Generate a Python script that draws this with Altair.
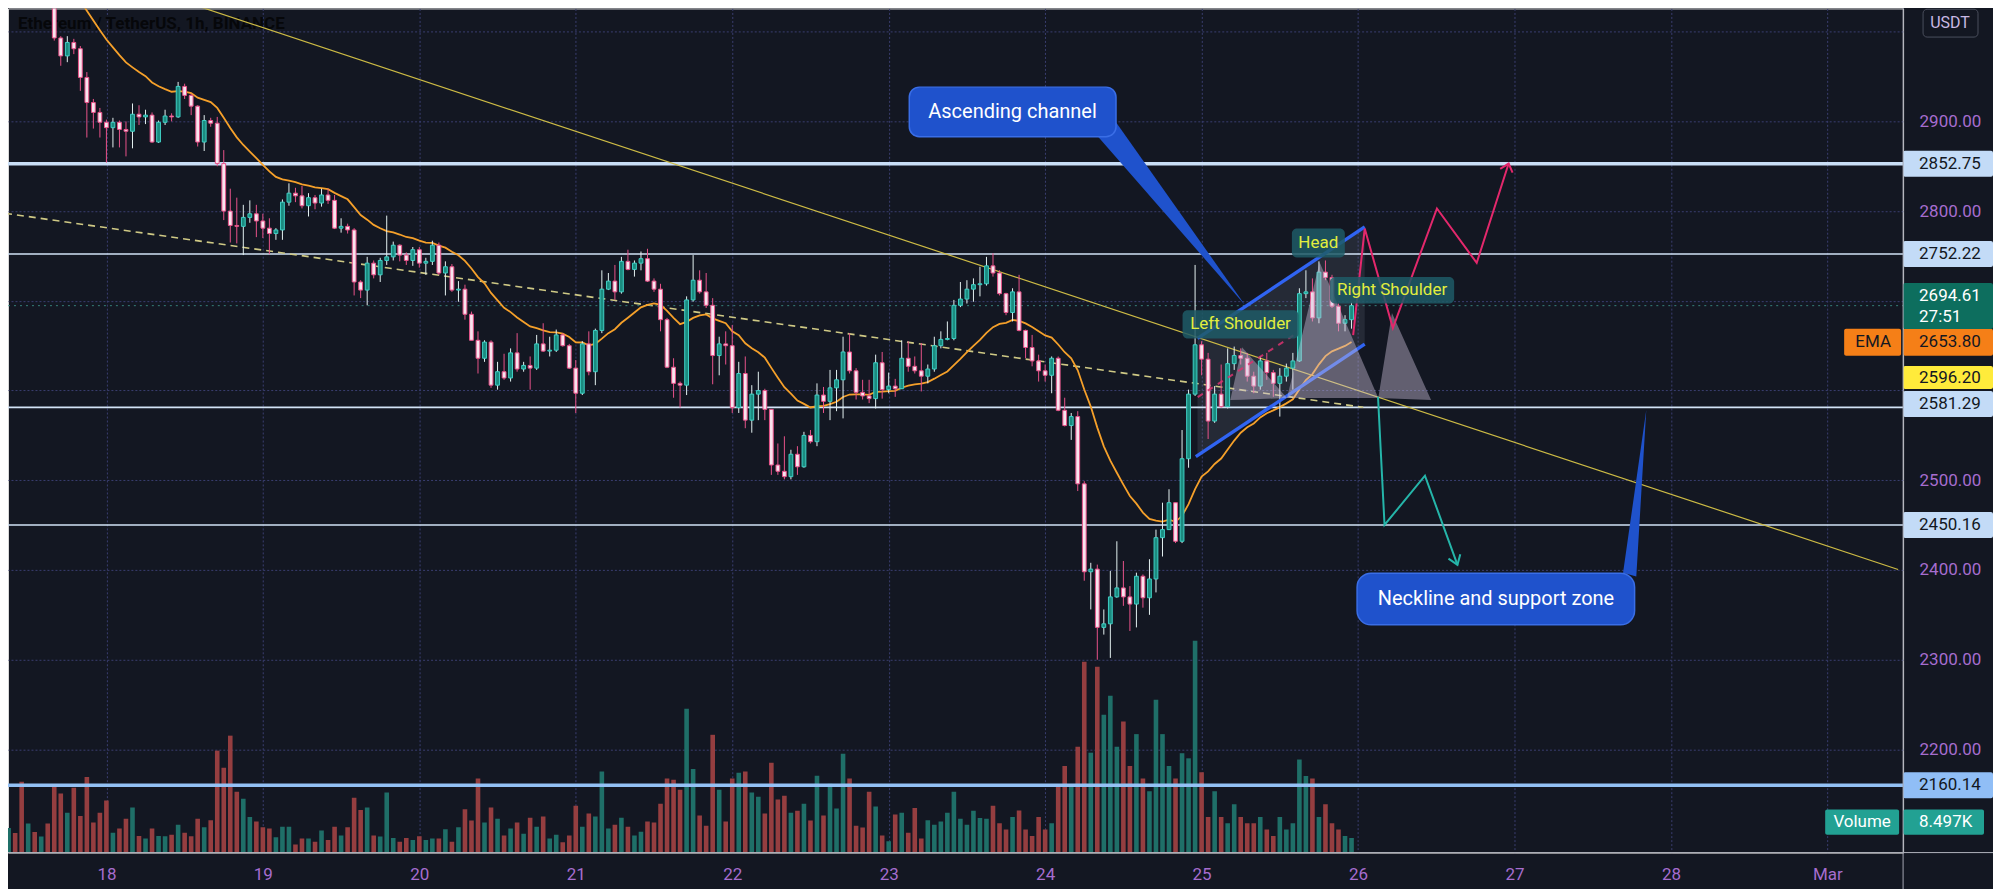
import altair as alt
import pandas as pd

# ---------------- data (hourly candles, t = hours since 18 Feb 00:00) ----------------
FIRST_HOUR = -15
FIRST_OPEN = 3065
closes = [
    3072, 3058, 3049, 3060, 3052, 3055, 3046, 2993, 2973, 2988,
    2981, 2949, 2921, 2910, 2899, 2893, 2899, 2891, 2889, 2908,
    2905, 2907, 2877, 2899, 2906, 2905, 2939, 2929, 2917, 2877,
    2901, 2898, 2853, 2800, 2784, 2783, 2793, 2797, 2789, 2781,
    2775, 2779, 2810, 2820, 2817, 2806, 2815, 2809, 2818, 2812,
    2781, 2783, 2779, 2721, 2712, 2742, 2729, 2745, 2749, 2762,
    2751, 2745, 2757, 2742, 2744, 2762, 2731, 2738, 2712, 2713,
    2685, 2656, 2636, 2654, 2606, 2621, 2614, 2642, 2624, 2628,
    2625, 2652, 2644, 2645, 2662, 2650, 2625, 2597, 2652, 2621,
    2667, 2713, 2722, 2710, 2744, 2735, 2742, 2747, 2722, 2713,
    2679, 2626, 2608, 2606, 2701, 2723, 2710, 2695, 2639, 2652,
    2650, 2581, 2619, 2567, 2596, 2600, 2579, 2517, 2510, 2504,
    2529, 2515, 2550, 2543, 2595, 2588, 2603, 2612, 2643, 2622,
    2598, 2594, 2591, 2631, 2601, 2605, 2602, 2636, 2627, 2622,
    2616, 2624, 2650, 2657, 2658, 2695, 2702, 2713, 2718, 2719,
    2739, 2731, 2708, 2687, 2710, 2667, 2648, 2633, 2622, 2617,
    2636, 2578, 2561, 2571, 2496, 2398, 2401, 2336, 2340, 2370,
    2380, 2370, 2362, 2393, 2369, 2390, 2436, 2445, 2475, 2432,
    2524, 2596, 2651, 2635, 2566, 2596, 2582, 2630, 2639, 2636,
    2616, 2605, 2633, 2620, 2608, 2616, 2625, 2633, 2708, 2710,
    2681, 2732, 2726, 2694, 2675, 2679, 2694.61,
]
highs = [
    3085, 3078, 3062, 3066, 3064, 3062, 3058, 3055, 2995, 2995,
    2992, 2984, 2955, 2925, 2915, 2902, 2904, 2901, 2900, 2920,
    2918, 2913, 2910, 2901, 2913, 2909, 2944, 2942, 2931, 2918,
    2907, 2904, 2905, 2868, 2825, 2815, 2807, 2812, 2807, 2797,
    2792, 2781, 2813, 2831, 2826, 2828, 2820, 2818, 2825, 2825,
    2818, 2792, 2786, 2781, 2723, 2749, 2745, 2748, 2795, 2766,
    2763, 2754, 2760, 2760, 2748, 2767, 2765, 2744, 2741, 2722,
    2718, 2688, 2666, 2656, 2656, 2632, 2641, 2647, 2664, 2632,
    2638, 2662, 2675, 2660, 2668, 2664, 2652, 2634, 2655, 2666,
    2669, 2734, 2731, 2740, 2749, 2757, 2745, 2755, 2758, 2725,
    2719, 2681, 2636, 2610, 2705, 2751, 2734, 2731, 2703, 2660,
    2666, 2673, 2632, 2638, 2606, 2621, 2602, 2579, 2541, 2549,
    2534, 2538, 2554, 2556, 2608, 2604, 2623, 2623, 2660, 2664,
    2625, 2612, 2612, 2640, 2643, 2620, 2613, 2656, 2655, 2638,
    2653, 2629, 2660, 2666, 2677, 2701, 2721, 2723, 2725, 2738,
    2749, 2753, 2734, 2709, 2714, 2729, 2668, 2662, 2640, 2629,
    2638, 2638, 2592, 2575, 2577, 2499, 2408, 2406, 2356, 2399,
    2432, 2410, 2382, 2397, 2395, 2412, 2445, 2475, 2490, 2475,
    2556, 2601, 2740, 2655, 2642, 2605, 2629, 2647, 2649, 2647,
    2642, 2621, 2638, 2642, 2623, 2625, 2630, 2642, 2714, 2734,
    2725, 2744, 2745, 2729, 2697, 2684, 2698,
]
lows = [
    3058, 3050, 3028, 3040, 3044, 3041, 3036, 2990, 2962, 2966,
    2975, 2934, 2882, 2892, 2882, 2854, 2871, 2871, 2861, 2870,
    2896, 2897, 2876, 2876, 2896, 2900, 2904, 2925, 2907, 2872,
    2867, 2894, 2850, 2790, 2765, 2764, 2751, 2787, 2771, 2770,
    2752, 2768, 2768, 2806, 2810, 2803, 2794, 2802, 2805, 2808,
    2780, 2776, 2775, 2706, 2703, 2695, 2725, 2721, 2740, 2745,
    2744, 2740, 2739, 2737, 2729, 2740, 2729, 2706, 2710, 2699,
    2679, 2656, 2619, 2632, 2603, 2601, 2612, 2610, 2621, 2621,
    2601, 2623, 2643, 2638, 2643, 2649, 2624, 2575, 2595, 2617,
    2606, 2664, 2712, 2701, 2708, 2734, 2727, 2734, 2721, 2710,
    2666, 2625, 2592, 2581, 2595, 2699, 2708, 2692, 2607, 2617,
    2629, 2575, 2575, 2558, 2553, 2567, 2567, 2506, 2506, 2501,
    2501, 2506, 2514, 2541, 2538, 2575, 2567, 2577, 2569, 2619,
    2590, 2590, 2586, 2580, 2591, 2597, 2593, 2602, 2621, 2619,
    2599, 2608, 2621, 2647, 2656, 2656, 2693, 2697, 2699, 2705,
    2717, 2727, 2706, 2684, 2677, 2666, 2636, 2627, 2610, 2610,
    2597, 2577, 2560, 2545, 2488, 2388, 2356, 2300, 2328, 2302,
    2369, 2360, 2332, 2336, 2358, 2350, 2375, 2415, 2451, 2430,
    2430, 2514, 2594, 2617, 2546, 2564, 2581, 2580, 2623, 2629,
    2610, 2597, 2601, 2612, 2593, 2571, 2610, 2601, 2632, 2703,
    2677, 2675, 2723, 2692, 2666, 2666, 2669,
]
volumes_k = [
    14.5, 11.5, 41.6, 17.0, 12.1, 9.4, 17.0, 38.5, 34.6, 23.3,
    38.1, 21.5, 44.4, 17.6, 23.4, 30.6, 11.7, 14.1, 19.9, 26.4,
    9.8, 8.2, 14.1, 9.8, 9.6, 10.5, 16.4, 11.7, 9.6, 19.9,
    14.8, 18.9, 59.8, 49.8, 68.6, 35.7, 31.6, 20.9, 18.3, 14.8,
    14.1, 9.0, 15.2, 15.2, 4.7, 8.2, 8.2, 6.4, 12.9, 7.4,
    15.2, 10.0, 14.8, 32.2, 25.0, 26.4, 10.0, 9.4, 35.2, 8.6,
    6.4, 8.6, 7.4, 9.6, 7.4, 8.2, 8.2, 13.7, 6.3, 14.8,
    25.4, 18.8, 43.4, 17.6, 26.4, 19.9, 10.0, 14.1, 17.6, 11.1,
    20.5, 15.2, 21.1, 8.2, 10.5, 6.0, 10.0, 27.5, 15.2, 22.9,
    21.1, 47.6, 14.1, 16.4, 20.5, 15.2, 10.0, 12.3, 18.2, 17.6,
    28.7, 43.4, 42.8, 36.9, 84.4, 49.0, 21.7, 15.8, 69.1, 36.9,
    18.2, 43.4, 46.9, 47.6, 35.2, 32.8, 22.9, 52.7, 31.1, 33.4,
    23.4, 24.6, 28.7, 18.8, 45.1, 21.7, 40.4, 25.8, 58.0, 43.4,
    15.8, 14.7, 35.7, 27.0, 10.0, 6.6, 22.3, 23.4, 11.7, 26.2,
    8.2, 18.9, 16.4, 18.2, 23.4, 35.7, 19.9, 16.4, 24.6, 20.3,
    19.9, 27.5, 17.2, 13.5, 20.9, 24.7, 13.5, 9.7, 20.9, 13.5,
    17.2, 39.6, 50.8, 39.6, 62.1, 111.9, 58.6, 109.0, 80.8, 92.0,
    62.1, 76.9, 50.8, 69.5, 43.4, 36.0, 89.7, 69.5, 50.8, 43.4,
    58.3, 55.3, 124.2, 47.1, 20.9, 36.0, 20.9, 17.2, 28.4, 20.9,
    17.2, 17.2, 20.9, 13.5, 9.7, 20.9, 13.5, 17.2, 54.6, 44.9,
    43.4, 20.9, 28.4, 17.2, 13.5, 9.7, 8.497,
]
EMA_LENGTH = 20
EMA_SEED = 3090

day_ticks = [0, 24, 48, 72, 96, 120, 144, 168, 192, 216, 240, 264]
day_labels = ["18", "19", "20", "21", "22", "23", "24", "25", "26", "27", "28", "Mar"]
price_ticks = [2200, 2300, 2400, 2500, 2600, 2700, 2800, 2900, 3000]
price_ticks_hidden = [2600, 2700, 3000]   # covered by price tags / the USDT badge

hline_prices = [2852.75, 2752.22, 2581.29, 2450.16, 2160.14]
hline_widths = [3.5, 1.6, 1.6, 1.6, 3.5]
hline_colors = ["#c9def6", "#d2e3f6", "#d2e3f6", "#d2e3f6", "#93c1f5"]

trend_t = [11.38, 274.84]
trend_p = [3034.9, 2400.5]
dashed_t = [-15.55, 192.8]
dashed_p = [2797.6, 2581.3]

chan_upper_t = [167.37, 193.02]
chan_upper_p = [2658.1, 2782.4]
chan_lower_t = [167.11, 193.02]
chan_lower_p = [2526.3, 2651.8]
chan_fill_t = [167.37, 193.02]
chan_fill_top = [2658.1, 2782.4]
chan_fill_bot = [2527.6, 2651.8]

hs_t = [172.4, 174.2, 181.1, 186.1, 195.1, 197.2, 203.2]
hs_p = [2589.4, 2648.4, 2591.6, 2743.1, 2591.6, 2686.3, 2589.4]

pinkdash_t = [167.4, 182.6]
pinkdash_p = [2592.6, 2664.0]
pink_t = [191.25, 193.02, 197.34, 204.1, 210.2, 215.1]
pink_p = [2661.8, 2780.6, 2669.6, 2802.9, 2742.3, 2853.0]
pink_head_t = [213.8, 215.1, 215.7]
pink_head_p = [2847.0, 2853.0, 2843.0]
teal_t = [195.06, 196.06, 202.26, 207.25]
teal_p = [2593.1, 2450.2, 2505.1, 2405.7]
teal_head_t = [205.87, 207.25, 207.68]
teal_head_p = [2412.7, 2405.7, 2417.5]

callout_text = ["Ascending channel", "Neckline and support zone"]
callout_t0 = [123.16, 191.85]
callout_t1 = [154.87, 234.42]
callout_p0 = [2938.2, 2396.4]
callout_p1 = [2882.9, 2338.9]
callout_tc = [139.0, 213.15]
callout_pc = [2910.6, 2367.8]
callout_wedge_t = [[152.12, 154.87, 174.68], [232.65, 234.68, 236.21]]
callout_wedge_p = [[2882.9, 2899.0, 2695.2], [2396.8, 2392.6, 2578.3]]

pattern_text = ["Head", "Left Shoulder", "Right Shoulder"]
pattern_t0 = [181.85, 165.08, 187.69]
pattern_t1 = [189.97, 182.86, 206.74]
pattern_p0 = [2780.6, 2689.6, 2726.7]
pattern_p1 = [2748.3, 2658.1, 2697.1]
pattern_tc = [185.9, 173.97, 197.22]
pattern_pc = [2764.3, 2673.9, 2711.9]

title_text = "Ethereum / TetherUS, 1h, BINANCE"

# right-scale price tags: text, top, bottom, fill
tag_text = ["2852.75", "2752.22", "2653.80", "2596.20", "2581.29", "2450.16", "2160.14"]
tag_top = [2867.2, 2766.7, 2668.8, 2627.3, 2599.5, 2464.6, 2174.6]
tag_bot = [2838.3, 2737.7, 2638.8, 2601.7, 2570.5, 2435.7, 2145.6]
tag_mid = [2852.75, 2752.22, 2653.8, 2614.5, 2585.0, 2450.16, 2160.14]
tag_fill = ["#c3dbf7", "#c3dbf7", "#f57f17", "#ffeb3b", "#c3dbf7", "#c3dbf7", "#90bef6"]

# ---------------- layout ----------------
W, H = 1897, 845
Y_MIN, Y_MAX = 2085.0, 3025.9
VOL_TOP = 495.2            # volume (K) at the top of the pane
xscale = alt.Scale(domain=[-14.33, 274.84], nice=False, zero=False)
yscale = alt.Scale(domain=[Y_MIN, Y_MAX], nice=False, zero=False)
BG = "#131722"
AXIS_TXT = "#a66dcf"
GRID = "#3a3e70"
FONT = "Roboto"

x_axis = alt.Axis(
    values=day_ticks, grid=True, gridColor=GRID, gridDash=[2, 2], gridWidth=1,
    ticks=False, domain=False, labelColor=AXIS_TXT, labelFontSize=17, labelFont=FONT,
    labelPadding=14, labelFlush=False, labelOverlap=False, title=None,
    labelExpr="[" + ",".join("'" + s + "'" for s in day_labels) + "][round(datum.value/24)]",
)
hidden = "||".join("datum.value==%d" % v for v in price_ticks_hidden)
y_axis = alt.Axis(
    orient="right", values=price_ticks, grid=True, gridColor=GRID, gridDash=[2, 2], gridWidth=1,
    ticks=False, domain=False, labelColor=AXIS_TXT, labelFontSize=17, labelFont=FONT,
    labelPadding=16, labelAlign="left", labelBaseline="middle", labelOverlap=False,
    labelExpr="(" + hidden + ") ? '' : format(datum.value, '.2f')", title=None,
)


def X(f):
    return alt.X(f, type="quantitative", scale=xscale, axis=x_axis)


def Y(f):
    return alt.Y(f, type="quantitative", scale=yscale, axis=y_axis)


# candles
rows = []
prev = FIRST_OPEN
ema = EMA_SEED
alpha = 2.0 / (EMA_LENGTH + 1)
vol_to_price = (Y_MAX - Y_MIN) / VOL_TOP
for i, (c, h, l, v) in enumerate(zip(closes, highs, lows, volumes_k)):
    o = prev
    up = c >= o
    ema = ema + alpha * (c - ema)
    rows.append(dict(
        t=FIRST_HOUR + i, o=o, c=c, h=max(h, o, c), l=min(l, o, c), vol=v, ema=ema,
        vy=Y_MIN + v * vol_to_price, vb=Y_MIN,
        bt=max(o, c), bb=min(o, c),
        bf="#1b8b7f" if up else "#f8e4ee",
        bs="#3fd0c6" if up else "#e8528a",
        wick="#e4f1f1" if up else "#e8528a",
        vc="#1f6f68" if up else "#953e40",
    ))
    prev = c
cdf = pd.DataFrame(rows)

one = pd.DataFrame({"a": [0]})

title_l = alt.Chart(pd.DataFrame({"t": [-13.57], "p": [3008.1], "s": [title_text]})).mark_text(
    align="left", baseline="middle", fontSize=17, fontWeight="bold", color="#06070a", font=FONT
).encode(x=X("t"), y=Y("p"), text="s:N")

vol = alt.Chart(cdf).mark_bar(size=4.6, clip=True).encode(
    x=X("t"), y=Y("vy"), y2="vb:Q", color=alt.Color("vc:N", scale=None),
)

chan_fill = alt.Chart(pd.DataFrame({"t": chan_fill_t, "p": chan_fill_top, "p2": chan_fill_bot})).mark_area(
    color="#8a8fa3", opacity=0.16
).encode(x=X("t"), y=Y("p"), y2="p2:Q")

hl_df = pd.DataFrame({"p": hline_prices, "w": hline_widths, "c": hline_colors})
hlines = alt.Chart(hl_df).mark_rule().encode(
    y=Y("p"), x=alt.value(0), x2=alt.value(W),
    color=alt.Color("c:N", scale=None), strokeWidth=alt.StrokeWidth("w:Q", scale=None),
)

trend = alt.Chart(pd.DataFrame({"t": trend_t, "p": trend_p})).mark_line(
    color="#cdbb45", strokeWidth=1.2, clip=True
).encode(x=X("t"), y=Y("p"))
dashed = alt.Chart(pd.DataFrame({"t": dashed_t, "p": dashed_p})).mark_line(
    color="#cfc985", strokeWidth=1.6, strokeDash=[7, 5], clip=True
).encode(x=X("t"), y=Y("p"))

curline = alt.Chart(pd.DataFrame({"p": [closes[-1]]})).mark_rule(
    color="#3f9c92", strokeWidth=1, strokeDash=[2, 4], opacity=0.8
).encode(y=Y("p"), x=alt.value(0), x2=alt.value(W))

ema_l = alt.Chart(cdf).mark_line(color="#f5a02a", strokeWidth=1.8, clip=True).encode(x=X("t"), y=Y("ema"))

wick = alt.Chart(cdf).mark_rule(strokeWidth=1, clip=True).encode(
    x=X("t"), y=Y("l"), y2="h:Q", color=alt.Color("wick:N", scale=None),
)
body = alt.Chart(cdf).mark_bar(size=3.8, strokeWidth=1, clip=True).encode(
    x=X("t"), y=Y("bt"), y2="bb:Q",
    fill=alt.Fill("bf:N", scale=None), stroke=alt.Stroke("bs:N", scale=None),
)

chan_df = pd.DataFrame({
    "t": chan_upper_t + chan_lower_t, "p": chan_upper_p + chan_lower_p,
    "id": ["u", "u", "l", "l"],
})
chan_lines = alt.Chart(chan_df).mark_line(color="#3064f2", strokeWidth=3.4).encode(
    x=X("t"), y=Y("p"), detail="id:N"
)


def tri_rows(key, ts, ps):
    pts = sorted(zip(ts, ps))
    (t0, p0), (t1, p1), (t2, p2) = pts
    mid = p0 + (t1 - t0) / (t2 - t0) * (p2 - p0)
    return [dict(id=key, t=t0, p=p0, p2=p0), dict(id=key, t=t1, p=p1, p2=mid),
            dict(id=key, t=t2, p=p2, p2=p2)]


tri = []
for k in range(3):
    tri += tri_rows("hs%d" % k, hs_t[2 * k:2 * k + 3], hs_p[2 * k:2 * k + 3])
hs_l = alt.Chart(pd.DataFrame(tri)).mark_area(color="#cfc3dd", opacity=0.42).encode(
    x=X("t"), y=Y("p"), y2="p2:Q", detail="id:N"
)

pinkdash = alt.Chart(pd.DataFrame({"t": pinkdash_t, "p": pinkdash_p})).mark_line(
    color="#d8336f", strokeWidth=2, strokeDash=[6, 6], opacity=0.85
).encode(x=X("t"), y=Y("p"))

path_df = pd.DataFrame({
    "t": pink_t + pink_head_t + teal_t + teal_head_t,
    "p": pink_p + pink_head_p + teal_p + teal_head_p,
    "id": ["pk"] * len(pink_t) + ["pkh"] * 3 + ["tl"] * len(teal_t) + ["tlh"] * 3,
    "c": ["#e3286c"] * (len(pink_t) + 3) + ["#25b5a9"] * (len(teal_t) + 3),
    "o": list(range(len(pink_t))) + [0, 1, 2] + list(range(len(teal_t))) + [0, 1, 2],
})
paths = alt.Chart(path_df).mark_line(strokeWidth=2).encode(
    x=X("t"), y=Y("p"), detail="id:N", order="o:Q", color=alt.Color("c:N", scale=None)
)

CALL_FILL = "#1f52cc"
call_df = pd.DataFrame({
    "t0": callout_t0, "t1": callout_t1, "p0": callout_p0, "p1": callout_p1,
    "tc": callout_tc, "pc": callout_pc, "s": callout_text,
})
wedges = []
for k in range(2):
    wedges += tri_rows("w%d" % k, callout_wedge_t[k], callout_wedge_p[k])
wedge_l = alt.Chart(pd.DataFrame(wedges)).mark_area(color=CALL_FILL).encode(
    x=X("t"), y=Y("p"), y2="p2:Q", detail="id:N"
)
call_box1 = alt.Chart(call_df.iloc[[0]]).mark_rect(
    cornerRadius=10, fill=CALL_FILL, stroke="#3a6ee6", strokeWidth=1.5
).encode(x=X("t0"), x2="t1:Q", y=Y("p0"), y2="p1:Q")
call_box2 = alt.Chart(call_df.iloc[[1]]).mark_rect(
    cornerRadius=14, fill=CALL_FILL, stroke="#3a6ee6", strokeWidth=1.5
).encode(x=X("t0"), x2="t1:Q", y=Y("p0"), y2="p1:Q")
call_txt = alt.Chart(call_df).mark_text(
    align="center", baseline="middle", fontSize=20, color="#ffffff", font=FONT
).encode(x=X("tc"), y=Y("pc"), text="s:N")

pat_df = pd.DataFrame({
    "t0": pattern_t0, "t1": pattern_t1, "p0": pattern_p0, "p1": pattern_p1,
    "tc": pattern_tc, "pc": pattern_pc, "s": pattern_text,
})
pat_box = alt.Chart(pat_df).mark_rect(cornerRadius=5, fill="#1e5a66", opacity=0.85).encode(
    x=X("t0"), x2="t1:Q", y=Y("p0"), y2="p1:Q"
)
pat_txt = alt.Chart(pat_df).mark_text(
    align="center", baseline="middle", fontSize=17, color="#e2ee3e", font=FONT
).encode(x=X("tc"), y=Y("pc"), text="s:N")

# ---- right price scale tags ----
tag_df = pd.DataFrame({"s": tag_text, "top": tag_top, "bot": tag_bot, "mid": tag_mid, "f": tag_fill})
tag_box = alt.Chart(tag_df).mark_rect(cornerRadius=2).encode(
    y=Y("top"), y2="bot:Q", x=alt.value(W), x2=alt.value(W + 90), fill=alt.Fill("f:N", scale=None)
)
tag_txt = alt.Chart(tag_df).mark_text(
    align="left", baseline="middle", fontSize=17, color="#131722", font=FONT
).encode(y=Y("mid"), x=alt.value(W + 16), text="s:N")

last_box = alt.Chart(pd.DataFrame({"top": [2719.8], "bot": [2668.6]})).mark_rect(
    cornerRadius=2, fill="#0d6e5e"
).encode(y=Y("top"), y2="bot:Q", x=alt.value(W), x2=alt.value(W + 90))
last_txt = alt.Chart(pd.DataFrame({"p": [2705.2, 2681.8], "s": ["%.2f" % closes[-1], "27:51"]})).mark_text(
    align="left", baseline="middle", fontSize=17, color="#ffffff", font=FONT
).encode(y=Y("p"), x=alt.value(W + 16), text="s:N")

ema_box = alt.Chart(pd.DataFrame({"top": [2668.8], "bot": [2638.8]})).mark_rect(
    cornerRadius=2, fill="#f57f17"
).encode(y=Y("top"), y2="bot:Q", x=alt.value(W - 59), x2=alt.value(W - 2))
ema_txt = alt.Chart(pd.DataFrame({"p": [2653.8], "s": ["EMA"]})).mark_text(
    align="center", baseline="middle", fontSize=17, color="#131722", font=FONT
).encode(y=Y("p"), x=alt.value(W - 30), text="s:N")

vol_tag_box = alt.Chart(pd.DataFrame({"top": [2132.9], "bot": [2105.0]})).mark_rect(
    cornerRadius=2, fill="#22a193"
).encode(y=Y("top"), y2="bot:Q", x=alt.value(W), x2=alt.value(W + 81))
vol_tag_txt = alt.Chart(pd.DataFrame({"p": [2119.0], "s": ["%.3fK" % volumes_k[-1]]})).mark_text(
    align="left", baseline="middle", fontSize=17, color="#ffffff", font=FONT
).encode(y=Y("p"), x=alt.value(W + 16), text="s:N")
vol_name_box = alt.Chart(pd.DataFrame({"top": [2132.9], "bot": [2105.0]})).mark_rect(
    cornerRadius=2, fill="#22a193"
).encode(y=Y("top"), y2="bot:Q", x=alt.value(W - 78), x2=alt.value(W - 4))
vol_name_txt = alt.Chart(pd.DataFrame({"p": [2119.0], "s": ["Volume"]})).mark_text(
    align="center", baseline="middle", fontSize=17, color="#ffffff", font=FONT
).encode(y=Y("p"), x=alt.value(W - 41), text="s:N")

usdt_box = alt.Chart(pd.DataFrame({"top": [3025.0], "bot": [2994.0]})).mark_rect(
    cornerRadius=4, fill=BG, stroke="#4a4e5c", strokeWidth=1
).encode(y=Y("top"), y2="bot:Q", x=alt.value(W + 20), x2=alt.value(W + 75))
usdt_txt = alt.Chart(pd.DataFrame({"p": [3009.5], "s": ["USDT"]})).mark_text(
    align="center", baseline="middle", fontSize=16, color="#c9b9e3", font=FONT
).encode(y=Y("p"), x=alt.value(W + 47), text="s:N")

x_line = alt.Chart(one).mark_rule(color="#b2b5be", strokeWidth=1).encode(
    y=alt.value(H), x=alt.value(-8), x2=alt.value(W + 96)
)
y_line = alt.Chart(one).mark_rule(color="#a3a6b2", strokeWidth=1).encode(
    x=alt.value(W), y=alt.value(-8), y2=alt.value(H + 44)
)

chart = alt.layer(
    title_l, vol, chan_fill, hlines, trend, dashed, curline, ema_l, wick, body,
    chan_lines, hs_l, pinkdash, paths,
    wedge_l, call_box1, call_box2, call_txt, pat_box, pat_txt,
    tag_box, tag_txt, last_box, last_txt, ema_box, ema_txt,
    vol_tag_box, vol_tag_txt, vol_name_box, vol_name_txt, usdt_box, usdt_txt,
    x_line, y_line,
).properties(
    width=W, height=H,
    padding={"left": 0, "top": 0, "right": 90, "bottom": 36},
    autosize=alt.AutoSizeParams(type="none"),
    background=BG,
).configure_view(strokeWidth=0).configure(font=FONT)

chart.save("out.html", embed_options={"renderer": "svg", "actions": False})
